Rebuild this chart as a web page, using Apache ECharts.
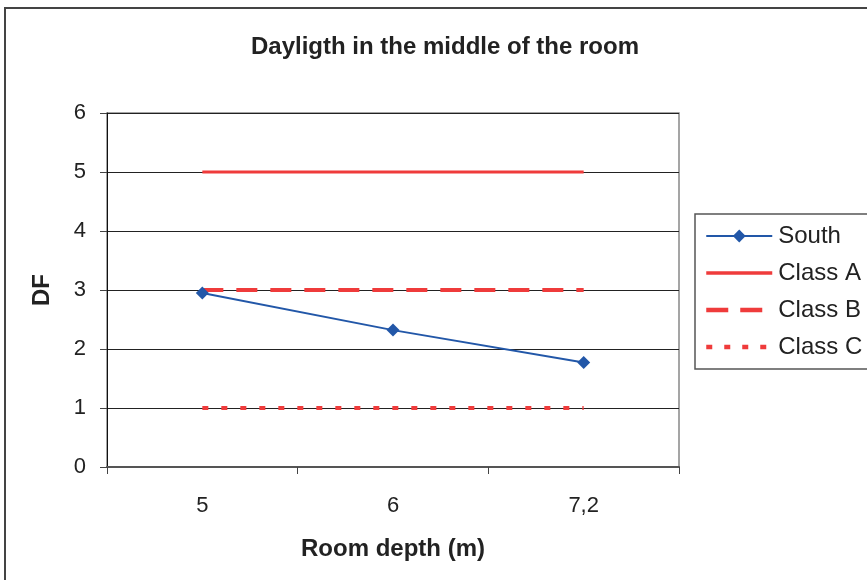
<!DOCTYPE html>
<html>
<head>
<meta charset="utf-8">
<script src="https://cdn.jsdelivr.net/npm/echarts@6/dist/echarts.min.js"></script>
<style>
html,body{margin:0;padding:0;background:#fff;}
#chart{width:867px;height:580px;}
</style>
</head>
<body>
<div id="chart"></div>
<script>
var categories = ['5', '6', '7,2'];
var south = [2.95, 2.32, 1.77];
var classA = [5, 5, 5];
var classB = [3, 3, 3];
var classC = [1, 1, 1];
var yTicks = [0, 1, 2, 3, 4, 5, 6];

var RED = '#ef3b3b';
var BLUE = '#2257a8';
var HIDE = {opacity: 0, color: 'rgba(0,0,0,0)', borderWidth: 0};
var chart = echarts.init(document.getElementById('chart'));
chart.setOption({
  backgroundColor: '#fff',
  animation: false,
  graphic: [{
    type: 'rect', shape: {x: 5, y: 8, width: 900, height: 620},
    style: {fill: 'none', stroke: '#444', lineWidth: 2}, silent: true
  }],
  title: {
    text: 'Dayligth in the middle of the room',
    left: 246, top: 30,
    textStyle: {fontFamily: 'Arial, Liberation Sans', fontSize: 24, fontWeight: 'bold', color: '#222'}
  },
  grid: {left: 107, right: 188, top: 113, bottom: 113, show: true, borderColor: '#888', borderWidth: 1.5, backgroundColor: '#fff'},
  legend: {
    orient: 'vertical', left: 695, top: 214,
    padding: [10, 40, 10, 9],
    itemWidth: 66, itemHeight: 16, itemGap: 13,
    borderColor: '#555', borderWidth: 1.5,
    textStyle: {fontFamily: 'Arial, Liberation Sans', fontSize: 24, color: '#222', padding: [0, 0, 0, 1]},
    data: [
      {name: 'South', lineStyle: {width: 2, color: BLUE}},
      {name: 'Class A', itemStyle: HIDE, lineStyle: {width: 3.5, color: RED, type: 'solid'}},
      {name: 'Class B', itemStyle: HIDE, lineStyle: {width: 4.5, color: RED, type: [22, 12]}},
      {name: 'Class C', itemStyle: HIDE, lineStyle: {width: 4.5, color: RED, type: [6, 12]}}
    ]
  },
  xAxis: {
    type: 'category', data: categories, boundaryGap: true,
    name: 'Room depth (m)', nameLocation: 'middle', nameGap: 70,
    nameTextStyle: {fontFamily: 'Arial, Liberation Sans', fontSize: 24, fontWeight: 'bold', color: '#222'},
    axisLine: {lineStyle: {color: '#555', width: 2}},
    axisTick: {show: true, length: 7, lineStyle: {color: '#444'}},
    axisLabel: {margin: 28, fontFamily: 'Arial, Liberation Sans', fontSize: 22, color: '#222'},
    splitLine: {show: false}
  },
  yAxis: {
    type: 'value', min: yTicks[0], max: yTicks[yTicks.length - 1], interval: 1,
    name: 'DF', nameLocation: 'middle', nameGap: 53,
    nameTextStyle: {fontFamily: 'Arial, Liberation Sans', fontSize: 24, fontWeight: 'bold', color: '#222'},
    axisLine: {show: true, lineStyle: {color: '#111', width: 1}},
    axisTick: {show: true, length: 7, lineStyle: {color: '#444'}},
    axisLabel: {margin: 21, fontFamily: 'Arial, Liberation Sans', fontSize: 22, color: '#222'},
    splitLine: {show: true, lineStyle: {color: '#222', width: 1}}
  },
  series: [
    {name: 'South', type: 'line', data: south, symbol: 'diamond', symbolSize: 13,
     itemStyle: {color: BLUE}, lineStyle: {color: BLUE, width: 2}, z: 5},
    {name: 'Class A', type: 'line', data: classA, symbol: 'none', showSymbol: false,
     itemStyle: {color: RED}, lineStyle: {color: RED, width: 3}},
    {name: 'Class B', type: 'line', data: classB, symbol: 'none', showSymbol: false,
     itemStyle: {color: RED}, lineStyle: {color: RED, width: 4, type: [21, 13]}},
    {name: 'Class C', type: 'line', data: classC, symbol: 'none', showSymbol: false,
     itemStyle: {color: RED}, lineStyle: {color: RED, width: 4, type: [6, 13]}}
  ]
});
</script>
</body>
</html>
